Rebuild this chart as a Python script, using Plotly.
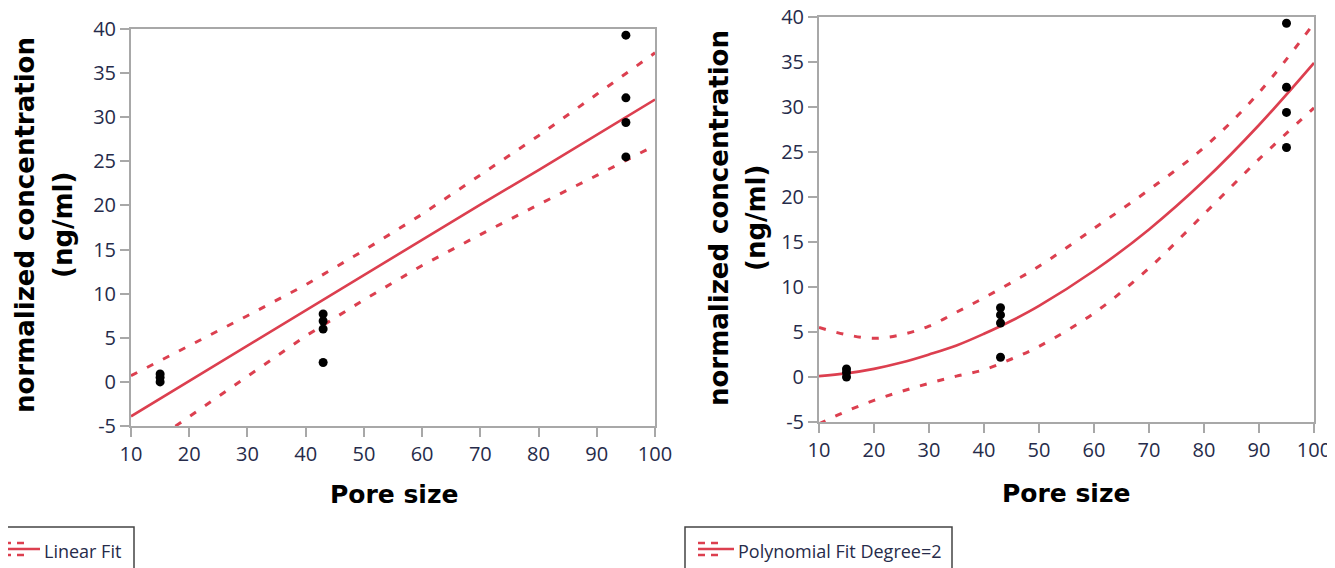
import plotly.graph_objects as go

# ---- data ----
pore_size = [15, 15, 15, 43, 43, 43, 43, 95, 95, 95, 95]
concentration = [0.0, 0.5, 0.9, 2.2, 6.0, 6.9, 7.7, 25.5, 29.4, 32.2, 39.3]

# linear fit and its confidence curves
lin_x = [10, 20, 30, 40, 50, 60, 70, 80, 90, 100]
lin_fit = [-3.9, 0.1, 4.1, 8.1, 12.1, 16.1, 20.1, 24.0, 28.0, 32.0]
lin_upper = [0.7, 4.1, 7.5, 11.0, 14.9, 19.0, 23.5, 27.9, 32.6, 37.3]
lin_lower = [-8.5, -3.9, 0.7, 5.2, 9.3, 13.2, 16.7, 20.1, 23.4, 26.8]

# degree-2 polynomial fit and its confidence curves
quad_x = [10, 15, 20, 25, 30, 35, 40, 45, 50, 60, 70, 80, 90, 100]
quad_fit = [0.1, 0.4, 0.9, 1.6, 2.5, 3.5, 4.8, 6.25, 7.9, 11.8, 16.4, 21.8, 28.0, 34.9]
quad_upper = [5.5, 4.7, 4.3, 4.7, 5.65, 7.2, 8.8, 10.5, 12.3, 16.5, 20.8, 25.5, 31.6, 39.3]
quad_lower = [-5.2, -3.8, -2.6, -1.6, -0.7, 0.1, 0.8, 2.0, 3.4, 7.1, 12.1, 18.1, 24.2, 29.9]

x_ticks = [10, 20, 30, 40, 50, 60, 70, 80, 90, 100]
y_ticks = [-5, 0, 5, 10, 15, 20, 25, 30, 35, 40]
x_title = "Pore size"
y_title_lines = ["normalized concentration", "(ng/ml)"]
legend_left = "Linear Fit"
legend_right = "Polynomial Fit Degree=2"

OFF = 8  # page body margin of the written html
W, H = 1335 - OFF, 568 - OFF
RED = "#DC3F4F"
TEXTCOL = "#262b4a"
TICKFONT = dict(family="Open Sans, sans-serif", size=20, color=TEXTCOL)


def px(v):
    return (v - OFF) / W


def py(v):
    return 1 - (v - OFF) / H


fig = go.Figure()

panels = [
    (lin_x, lin_fit, lin_lower, lin_upper, "x", "y", "linear"),
    (quad_x, quad_fit, quad_lower, quad_upper, "x2", "y2", "spline"),
]
for xs, fit, lo, hi, xa, ya, shape in panels:
    for band in (lo, hi):
        fig.add_trace(go.Scatter(x=xs, y=band, mode="lines", xaxis=xa, yaxis=ya,
                                 line=dict(color=RED, width=3, dash="7px,11px", shape=shape),
                                 showlegend=False, hoverinfo="skip"))
    fig.add_trace(go.Scatter(x=xs, y=fit, mode="lines", xaxis=xa, yaxis=ya,
                             line=dict(color=RED, width=2.6, shape=shape), showlegend=False))
    fig.add_trace(go.Scatter(x=pore_size, y=concentration, mode="markers", xaxis=xa, yaxis=ya,
                             marker=dict(color="black", size=9), showlegend=False))

axis_common = dict(showgrid=False, zeroline=False, showline=True, linecolor="#a8a8a8",
                   linewidth=2, mirror=True, ticks="outside", ticklen=9, tickcolor="#a8a8a8",
                   tickwidth=1.5, tickfont=TICKFONT, automargin=False, ticklabeloverflow="allow")
ylab = [str(v) for v in y_ticks]

fig.update_layout(
    width=W, height=H, margin=dict(l=0, r=0, t=0, b=0),
    paper_bgcolor="white", plot_bgcolor="white",
    xaxis=dict(domain=[px(131), px(655)], range=[10, 100], tickvals=x_ticks, anchor="y", **axis_common),
    yaxis=dict(domain=[py(426), py(29)], range=[-5, 40], tickvals=y_ticks, ticktext=ylab, anchor="x", **axis_common),
    xaxis2=dict(domain=[px(819), px(1314)], range=[10, 100], tickvals=x_ticks, anchor="y2", **axis_common),
    yaxis2=dict(domain=[py(422), py(17)], range=[-5, 40], tickvals=y_ticks, ticktext=ylab, anchor="x2", **axis_common),
    showlegend=False,
)

TITLEFONT = dict(family="DejaVu Sans, sans-serif", size=26, color="black")
for (c1, c2, cy) in [(25, 63, 225), (719, 756, 218)]:
    for cx, txt in zip((c1, c2), y_title_lines):
        fig.add_annotation(text="<b>%s</b>" % txt, xref="paper", yref="paper", x=px(cx), y=py(cy),
                           textangle=-90, showarrow=False, xanchor="center", yanchor="middle",
                           font=TITLEFONT)
for cx, cy in [(394, 494), (1066, 493)]:
    fig.add_annotation(text="<b>%s</b>" % x_title, xref="paper", yref="paper", x=px(cx), y=py(cy),
                       showarrow=False, xanchor="center", yanchor="middle",
                       font=dict(family="DejaVu Sans, sans-serif", size=25, color="black"))

# legend boxes
LEGFONT = dict(family="Open Sans, sans-serif", size=18, color=TEXTCOL)
for (x0, x1, ix, label) in [(-2, 134, 4, legend_left), (685, 952, 698, legend_right)]:
    fig.add_shape(type="rect", xref="paper", yref="paper", x0=px(x0), x1=px(x1),
                  y0=py(580), y1=py(527), line=dict(color="#444", width=1.5), fillcolor="white")
    for yy, kind in [(543, "dash"), (549, "solid"), (555, "dash")]:
        if kind == "solid":
            fig.add_shape(type="line", xref="paper", yref="paper", x0=px(ix), x1=px(ix + 36),
                          y0=py(yy), y1=py(yy), line=dict(color=RED, width=2.5))
        else:
            for d in (0, 13):
                fig.add_shape(type="line", xref="paper", yref="paper", x0=px(ix + d), x1=px(ix + d + 7),
                              y0=py(yy), y1=py(yy), line=dict(color=RED, width=2.5))
    fig.add_annotation(text=label, xref="paper", yref="paper", x=px(ix + 38), y=py(551),
                       showarrow=False, xanchor="left", yanchor="middle", font=LEGFONT)

fig.write_html("out.html")
